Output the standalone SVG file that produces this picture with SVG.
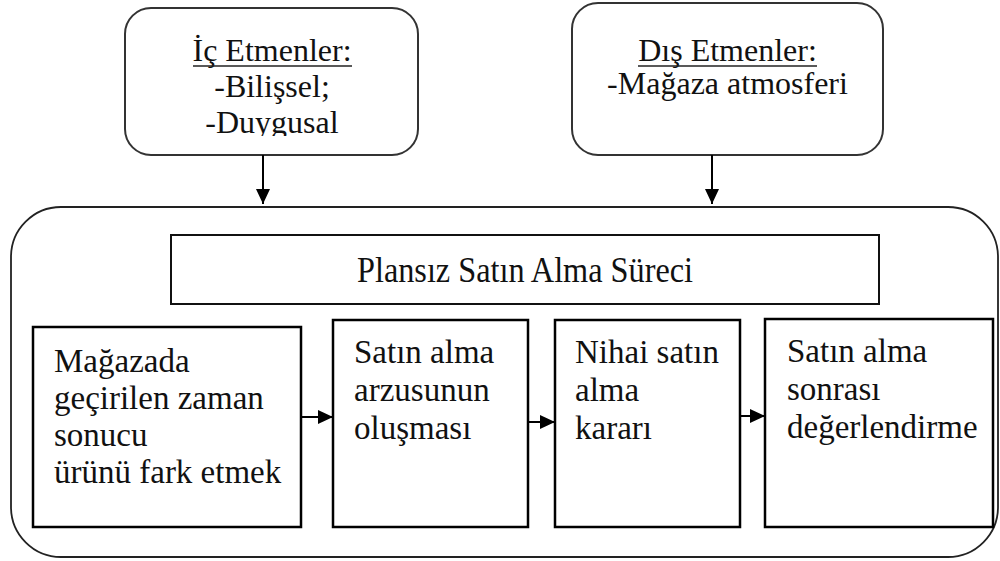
<svg xmlns="http://www.w3.org/2000/svg" width="1000" height="561" viewBox="0 0 1000 561">
  <style>
    text { font-family: 'Liberation Serif', 'Times New Roman', serif; font-size: 32px; fill: #111; }
    .mid { text-anchor: middle; }
    .stxt { font-size: 33px; }
    .factor { fill: #fff; stroke: #333; stroke-width: 2; }
    .step { fill: #fff; stroke: #000; stroke-width: 2.5; }
    .uline { stroke: #222; stroke-width: 1.5; }
    .conn { stroke: #000; stroke-width: 2; fill: none; }
  </style>
  <defs>
    <marker id="arrow" markerUnits="userSpaceOnUse" markerWidth="16" markerHeight="14" refX="15" refY="7" orient="auto">
      <path d="M0,0 L15,7 L0,14 Z" fill="#000"/>
    </marker>
    <clipPath id="icClip">
      <rect x="125" y="8" width="293" height="128"/>
    </clipPath>
  </defs>

  <rect width="1000" height="561" fill="#fff"/>

  <!-- outer process frame -->
  <g id="process-frame">
    <rect x="11" y="207" width="987" height="350" rx="50" ry="50" fill="none" stroke="#222" stroke-width="1.8"/>
  </g>

  <!-- internal factors -->
  <g id="ic-etmenler">
    <rect class="factor" x="125" y="8" width="293" height="147" rx="26" ry="26"/>
    <g clip-path="url(#icClip)">
      <text class="mid" x="272" y="61">İç Etmenler:</text>
      <text class="mid" x="272" y="97">-Bilişsel;</text>
      <text class="mid" x="272" y="133">-Duygusal</text>
    </g>
    <line class="uline" x1="193" y1="66" x2="352" y2="66"/>
  </g>

  <!-- external factors -->
  <g id="dis-etmenler">
    <rect class="factor" x="572" y="3" width="311" height="152" rx="26" ry="26"/>
    <text class="mid" x="727.5" y="61">Dış Etmenler:</text>
    <line class="uline" x1="638" y1="66" x2="817" y2="66"/>
    <text class="mid" x="727.5" y="94">-Mağaza atmosferi</text>
  </g>

  <!-- process title -->
  <g id="baslik">
    <rect x="171" y="235" width="708" height="69" fill="#fff" stroke="#111" stroke-width="2"/>
    <text class="mid" x="525" y="282" style="font-size:36px" textLength="336" lengthAdjust="spacingAndGlyphs">Plansız Satın Alma Süreci</text>
  </g>

  <!-- process steps -->
  <g id="adim-1">
    <rect class="step" x="33" y="327" width="268" height="200"/>
    <text class="stxt" x="54" y="372">Mağazada</text>
    <text class="stxt" x="54" y="409">geçirilen zaman</text>
    <text class="stxt" x="54" y="446">sonucu</text>
    <text class="stxt" x="54" y="483">ürünü fark etmek</text>
  </g>

  <g id="adim-2">
    <rect class="step" x="333" y="320" width="195" height="207"/>
    <text class="stxt" x="354" y="363">Satın alma</text>
    <text class="stxt" x="354" y="401">arzusunun</text>
    <text class="stxt" x="354" y="439">oluşması</text>
  </g>

  <g id="adim-3">
    <rect class="step" x="555" y="320" width="185" height="207"/>
    <text class="stxt" x="575" y="363">Nihai satın</text>
    <text class="stxt" x="575" y="401">alma</text>
    <text class="stxt" x="575" y="439">kararı</text>
  </g>

  <g id="adim-4">
    <rect class="step" x="765" y="319" width="228" height="208"/>
    <text class="stxt" x="787" y="362">Satın alma</text>
    <text class="stxt" x="787" y="400">sonrası</text>
    <text class="stxt" x="787" y="438">değerlendirme</text>
  </g>

  <!-- connectors -->
  <g id="connectors">
    <line class="conn" x1="263" y1="155" x2="263" y2="204" marker-end="url(#arrow)"/>
    <line class="conn" x1="712" y1="155" x2="712" y2="204" marker-end="url(#arrow)"/>
    <line class="conn" x1="301" y1="417" x2="333" y2="417" marker-end="url(#arrow)"/>
    <line class="conn" x1="528" y1="422" x2="555" y2="422" marker-end="url(#arrow)"/>
    <line class="conn" x1="740" y1="416" x2="765" y2="416" marker-end="url(#arrow)"/>
  </g>
</svg>
